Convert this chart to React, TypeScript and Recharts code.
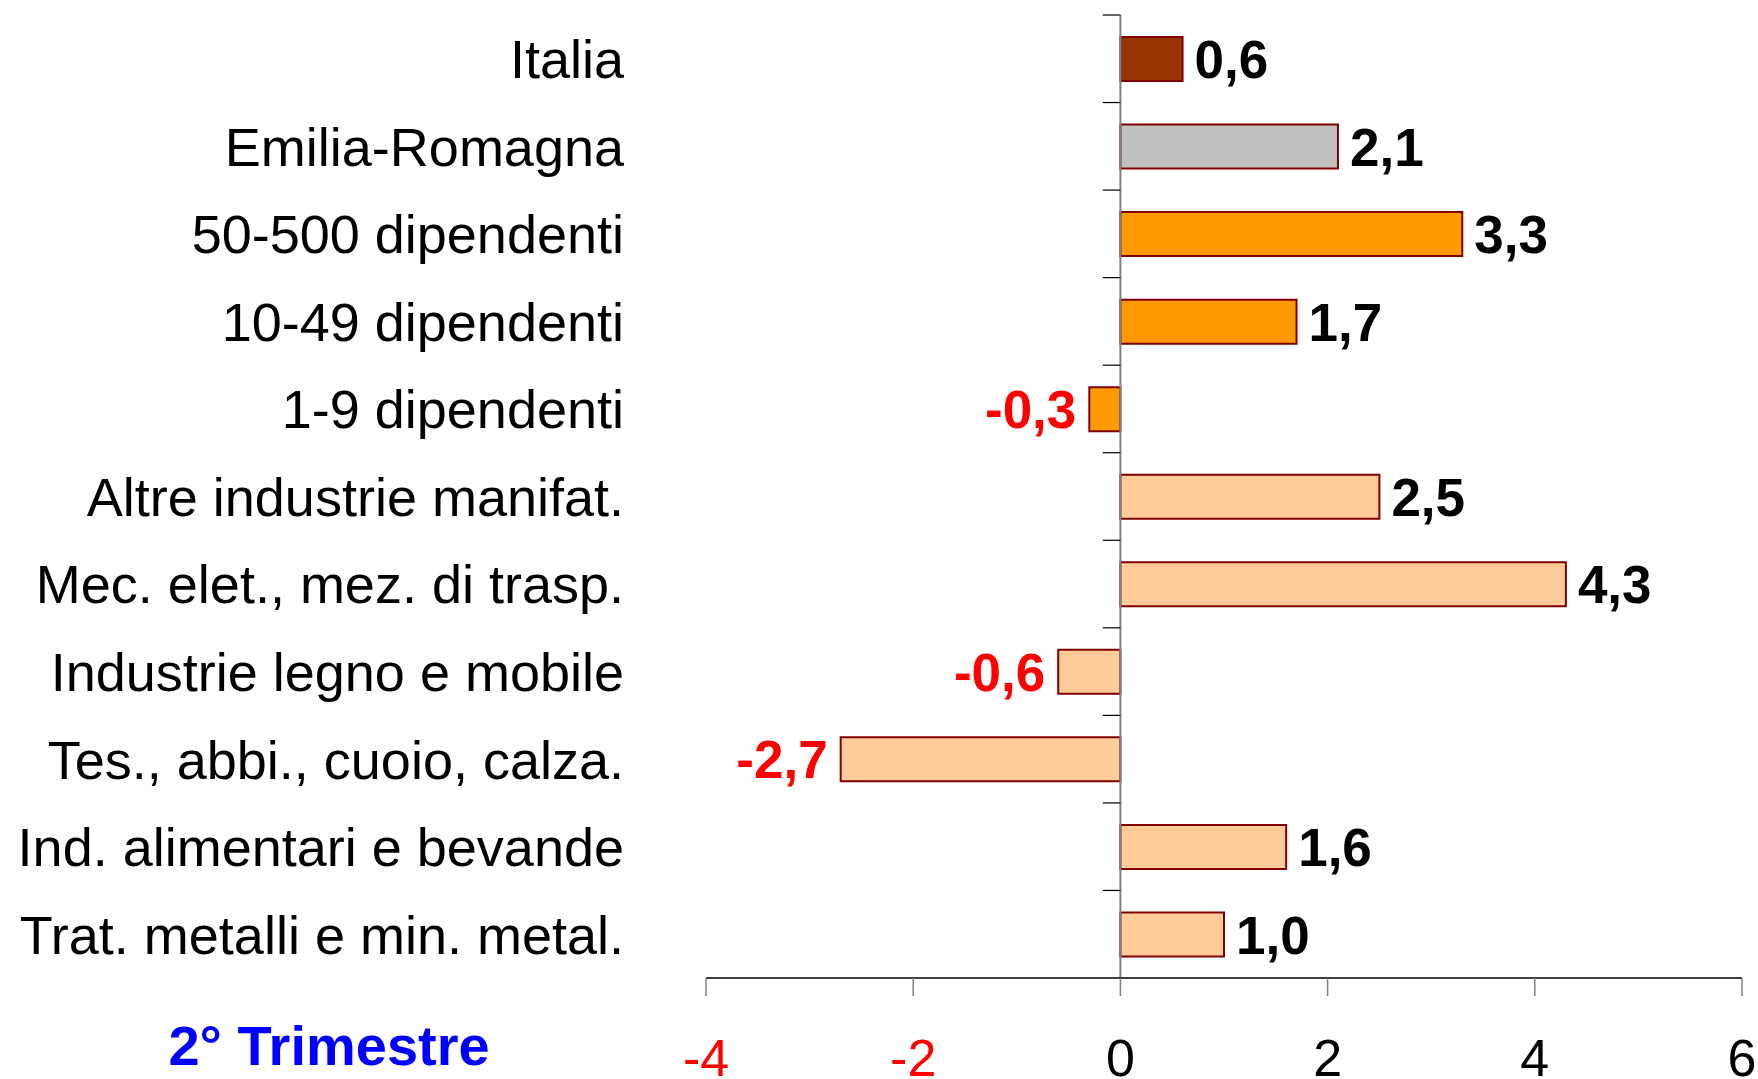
import React from 'react';
import { BarChart, Bar, XAxis, YAxis, Cell, LabelList, ReferenceLine } from 'recharts';

const categories = [
  'Italia',
  'Emilia-Romagna',
  '50-500 dipendenti',
  '10-49 dipendenti',
  '1-9 dipendenti',
  'Altre industrie manifat.',
  'Mec. elet., mez. di trasp.',
  'Industrie legno e mobile',
  'Tes., abbi., cuoio, calza.',
  'Ind. alimentari e bevande',
  'Trat. metalli e min. metal.',
];
const values = [0.6, 2.1, 3.3, 1.7, -0.3, 2.5, 4.3, -0.6, -2.7, 1.6, 1.0];
const barColors = [
  '#993300',
  '#C0C0C0',
  '#FF9900',
  '#FF9900',
  '#FF9900',
  '#FFCC99',
  '#FFCC99',
  '#FFCC99',
  '#FFCC99',
  '#FFCC99',
  '#FFCC99',
];
const xTicks = [-4, -2, 0, 2, 4, 6];
const xDomain = [-4, 6];
const title = '2° Trimestre';

const data = categories.map((name, i) => ({ name, value: values[i] }));

const FONT = '"Liberation Sans", Arial, Helvetica, sans-serif';

const CatTick = (props: any) => {
  const { x, y, payload } = props;
  return (
    <text x={x} y={y} dy="0.36em" textAnchor="end" fontFamily={FONT} fontSize={54} fill="#000">
      {payload.value}
    </text>
  );
};

const XTick = (props: any) => {
  const { x, y, payload } = props;
  const v = payload.value;
  return (
    <text x={x} y={y} dy={80} textAnchor="middle" fontFamily={FONT} fontSize={52} fill={v < 0 ? '#FF0000' : '#000'}>
      {String(v)}
    </text>
  );
};

const ValueLabel = (props: any) => {
  const { x, y, width, height, value } = props;
  const left = Math.min(x, x + width);
  const right = Math.max(x, x + width);
  const neg = value < 0;
  const txt = Number(value).toFixed(1).replace('.', ',');
  return (
    <text
      x={neg ? left - 13 : right + 12}
      y={y + height / 2}
      dy="0.36em"
      textAnchor={neg ? 'end' : 'start'}
      fontFamily={FONT}
      fontWeight="bold"
      fontSize={53}
      fill={neg ? '#FF0000' : '#000'}
    >
      {txt}
    </text>
  );
};

export default function App() {
  return (
    <div style={{ position: 'fixed', left: 0, top: 0, width: 1758, height: 1079, background: '#fff' }}>
      <BarChart
        width={1758}
        height={1079}
        data={data}
        layout="vertical"
        margin={{ top: 15, right: 16, bottom: 21, left: 0 }}
      >
        <XAxis
          type="number"
          domain={xDomain}
          ticks={xTicks}
          interval={0}
          height={80}
          axisLine={{ stroke: '#000', strokeWidth: 1.5 }}
          tickLine={{ stroke: '#808080', strokeWidth: 1.5 }}
          tickSize={18}
          tickMargin={0}
          tick={<XTick />}
        />
        <YAxis
          yAxisId="cat"
          type="category"
          dataKey="name"
          width={706}
          axisLine={false}
          tickLine={false}
          tickSize={0}
          tickMargin={82}
          interval={0}
          tick={<CatTick />}
        />
        <ReferenceLine x={0} yAxisId="cat" stroke="#808080" strokeWidth={2} />
        {categories.map((c) => (
          <ReferenceLine
            key={c}
            yAxisId="cat"
            position="start"
            segment={[
              { x: -0.17, y: c },
              { x: 0, y: c },
            ]}
            stroke="#000"
            strokeWidth={1.2}
          />
        ))}
        <Bar dataKey="value" yAxisId="cat" barSize={44} stroke="#800000" strokeWidth={2} isAnimationActive={false}>
          {data.map((d, i) => (
            <Cell key={d.name} fill={barColors[i]} />
          ))}
          <LabelList dataKey="value" content={<ValueLabel />} />
        </Bar>
      </BarChart>
      <div
        style={{
          position: 'absolute',
          left: 329,
          top: 1018,
          transform: 'translateX(-50%)',
          whiteSpace: 'nowrap',
          fontFamily: FONT,
          fontWeight: 'bold',
          fontSize: 56,
          lineHeight: '56px',
          color: '#0000FF',
        }}
      >
        {title}
      </div>
    </div>
  );
}
